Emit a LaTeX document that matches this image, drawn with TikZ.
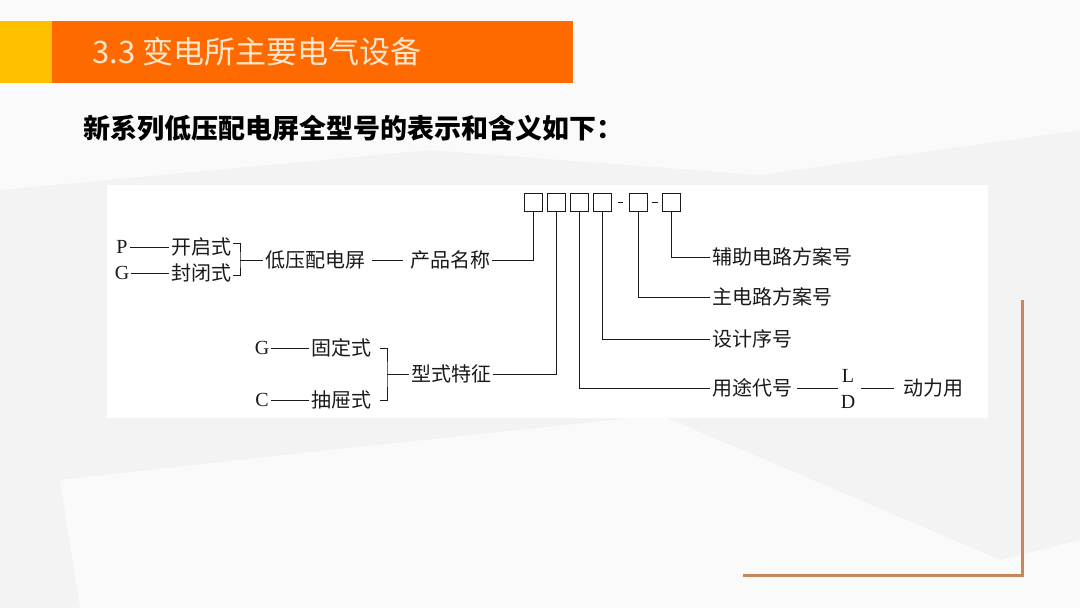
\documentclass[tikz,border=0pt]{standalone}
\usepackage{fontspec}
\setmainfont{Liberation Serif}
\newfontfamily\cjk{Noto Sans CJK SC}
\usepackage{xcolor}
\definecolor{slideorange}{HTML}{FF6A00}
\definecolor{slidegold}{HTML}{FFC000}
\definecolor{slidecream}{HTML}{FDE6CC}
\definecolor{slidegray}{HTML}{F3F3F3}
\definecolor{slidelight}{HTML}{FAFAFA}
\definecolor{cornerbrown}{HTML}{C8875A}
\definecolor{inkblack}{HTML}{1A1A1A}
\usepackage{tikz}
\usetikzlibrary{positioning}
\tikzset{
  cnlbl/.style={font=\cjk\fontsize{20}{20}\selectfont, text=inkblack, inner sep=2pt, anchor=west},
  ltrlbl/.style={font=\fontsize{20}{20}\selectfont, text=inkblack, inner sep=2pt},
  codebox/.style={draw=inkblack, line width=1pt, minimum size=18pt, inner sep=0pt},
  wire/.style={draw=inkblack, line width=1pt}
}

\begin{document}
\begin{tikzpicture}[x=1pt, y=-1pt]
  \useasboundingbox (0,0) rectangle (1080,608);
  \fill[slidegray] (0,0) rectangle (1080,608);
  \fill[slidelight] (0,0) -- (1080,0) -- (1080,130) -- (760,175) -- (430,150) -- (0,190) -- cycle;
  \fill[slidelight] (60,480) -- (330,450) -- (660,415) -- (1000,560) -- (1080,540) -- (1080,608) -- (80,608) -- cycle;
  \fill[white] (107,185) rectangle (988,418);
  \fill[slidegold] (0,21) rectangle (52,83);
  \fill[slideorange] (52,21) rectangle (573,83);
  \node[font=\cjk\fontsize{31}{31}\selectfont, text=slidecream, anchor=west, inner sep=0pt] (title) at (92,52) {3.3 变电所主要电气设备};
  \node[font=\cjk\bfseries\fontsize{27}{27}\selectfont, text=black, anchor=west, inner sep=0pt] (subtitle) at (83,128) {新系列低压配电屏全型号的表示和含义如下：};
  \draw[cornerbrown, line width=3pt] (1022,300) -- (1022,575) -- (743,575);

  \foreach \i/\x in {1/533,2/556,3/579,4/602,5/638,6/671}
    \node[codebox] (b\i) at (\x,202) {};
  \draw[wire, line width=0.8pt] ([xshift=6pt]b4.east) -- ([xshift=-6pt]b5.west);
  \draw[wire, line width=0.8pt] ([xshift=4pt]b5.east) -- ([xshift=-4pt]b6.west);

  \foreach \n/\b/\y/\t in {aux/6/257/辅助电路方案号, mainckt/5/297/主电路方案号, seq/4/339/设计序号, use/3/388/用途代号}{
    \node[cnlbl] (\n) at (710,\y) {\t};
    \draw[wire] (b\b.south) |- (\n.west);
  }

  \foreach \n/\c/\x/\y/\t in {p/P/122/247/开启式, g/G/122/273/封闭式, gf/G/262/348/固定式, c/C/262/400/抽屉式}{
    \node[ltrlbl] (\n) at (\x,\y) {\c};
    \node[cnlbl] (\n-txt) at (\x+47,\y) {\t};
    \draw[wire] (\n) -- (\n-txt);
  }

  \coordinate (brk1) at (240,260);
  \draw[wire] ([yshift=4pt]p-txt.east) -| (brk1) |- ([yshift=-2pt]g-txt.east);
  \node[cnlbl] (lvp) at (263,260) {低压配电屏};
  \node[cnlbl] (pname) at (408,260) {产品名称};
  \draw[wire] (brk1) -- (lvp);
  \draw[wire, shorten <=5pt, shorten >=5pt] (lvp) -- (pname);
  \draw[wire] (b1.south) |- (pname.east);

  \coordinate (brk2) at (387,374);
  \draw[wire] ([xshift=7pt]gf-txt.east) -| (brk2) |- ([xshift=7pt]c-txt.east);
  \node[cnlbl] (feat) at (409,374) {型式特征};
  \draw[wire] (brk2) -- (feat);
  \draw[wire] (b2.south) |- (feat.east);

  \node[ltrlbl] (l) at (848,376) {L};
  \node[ltrlbl] (d) at (848,402) {D};
  \coordinate (ld-in) at (838,388);
  \coordinate (ld-out) at (861,388);
  \node[cnlbl] (power) at (901,388) {动力用};
  \draw[wire, shorten <=3pt] (use) -- (ld-in);
  \draw[wire, shorten >=7pt] (ld-out) -- (power);
\end{tikzpicture}
\end{document}
